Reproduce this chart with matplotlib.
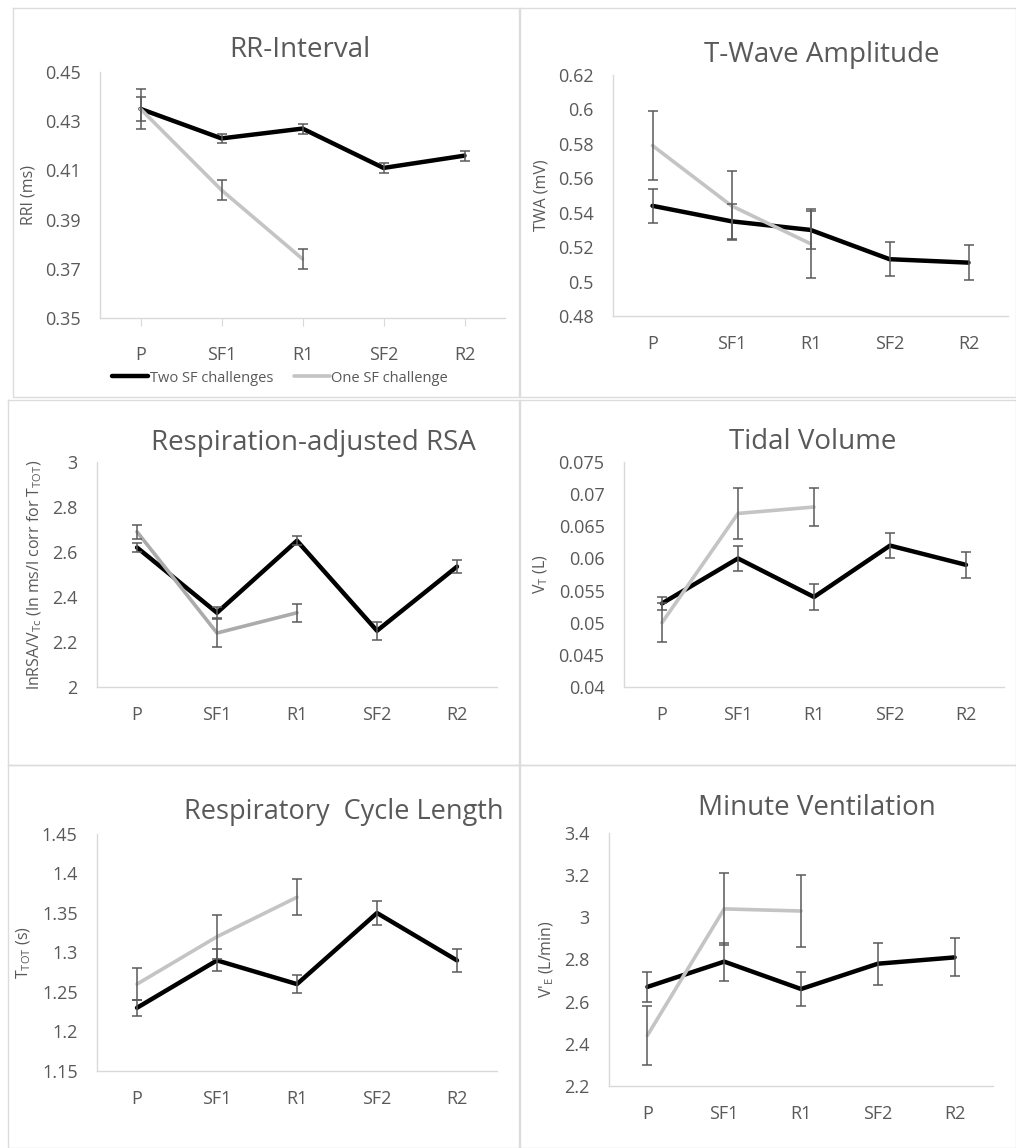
import matplotlib.pyplot as plt
from matplotlib.lines import Line2D

plt.rcParams['font.family'] = ['Open Sans', 'DejaVu Sans']
plt.rcParams['mathtext.fontset'] = 'custom'
plt.rcParams['mathtext.rm'] = 'Open Sans'
plt.rcParams['mathtext.it'] = 'Open Sans'

W, H = 1016, 1148
TXT = '#595959'
BLACK = '#000000'
GRAY = '#c4c4c4'

phases = ['P', 'SF1', 'R1', 'SF2', 'R2']
phases_one = ['P', 'SF1', 'R1']

# RR-Interval
rri_two = [0.435, 0.423, 0.427, 0.411, 0.416]
rri_two_err = [0.005, 0.002, 0.002, 0.002, 0.002]
rri_one = [0.435, 0.402, 0.374]
rri_one_err = [0.008, 0.004, 0.004]

# T-Wave Amplitude
twa_two = [0.544, 0.535, 0.530, 0.513, 0.511]
twa_two_err = [0.010, 0.010, 0.011, 0.010, 0.010]
twa_one = [0.579, 0.544, 0.522]
twa_one_err = [0.020, 0.020, 0.020]

# Respiration-adjusted RSA
rsa_two = [2.62, 2.33, 2.65, 2.25, 2.535]
rsa_two_err = [0.02, 0.025, 0.02, 0.04, 0.03]
rsa_one = [2.69, 2.24, 2.33]
rsa_one_err = [0.03, 0.06, 0.04]

# Tidal Volume
vt_two = [0.053, 0.060, 0.054, 0.062, 0.059]
vt_two_err = [0.001, 0.002, 0.002, 0.002, 0.002]
vt_one = [0.050, 0.067, 0.068]
vt_one_err = [0.003, 0.004, 0.003]

# Respiratory Cycle Length
ttot_two = [1.23, 1.29, 1.26, 1.35, 1.29]
ttot_two_err = [0.01, 0.014, 0.011, 0.015, 0.015]
ttot_one = [1.26, 1.32, 1.37]
ttot_one_err = [0.02, 0.028, 0.023]

# Minute Ventilation
ve_two = [2.67, 2.79, 2.66, 2.78, 2.81]
ve_two_err = [0.07, 0.09, 0.08, 0.10, 0.09]
ve_one = [2.44, 3.04, 3.03]
ve_one_err = [0.14, 0.17, 0.17]

fig = plt.figure(figsize=(W / 100, H / 100), dpi=100)


def px_axes(left, top, right, bottom):
    return fig.add_axes([left / W, 1 - bottom / H, (right - left) / W, (bottom - top) / H])


def panel(box, title, title_x, title_y, ylabel, ylim, yticks, two, two_err, one, one_err,
          gray=GRAY, xticks_marks=False, title_size=20):
    ax = px_axes(*box)
    x2 = list(range(len(phases)))
    x1 = list(range(len(phases_one)))
    ax.plot(x2, two, color=BLACK, lw=3.2, solid_capstyle='round', zorder=2,
            label='Two SF challenges')
    ax.plot(x1, one, color=gray, lw=2.6, solid_capstyle='round', zorder=3,
            label='One SF challenge')
    ax.errorbar(x2, two, yerr=two_err, fmt='none', ecolor='#5a5a5a', elinewidth=1.1,
                capsize=3.5, capthick=1.1, zorder=4)
    ax.errorbar(x1, one, yerr=one_err, fmt='none', ecolor='#5a5a5a', elinewidth=1.1,
                capsize=3.5, capthick=1.1, zorder=4)
    ax.set_xlim(-0.5, 4.5)
    ax.set_ylim(*ylim)
    ax.set_yticks(yticks)
    ax.set_yticklabels([f'{v:g}' for v in yticks])
    ax.set_xticks(x2)
    ax.set_xticklabels(phases)
    for s in ['top', 'right']:
        ax.spines[s].set_visible(False)
    for s in ['left', 'bottom']:
        ax.spines[s].set_color('#d9d9d9')
        ax.spines[s].set_linewidth(1.0)
    ax.tick_params(axis='y', length=0, pad=14, labelsize=13, labelcolor=TXT)
    ax.tick_params(axis='x', length=6 if xticks_marks else 0, color='#d9d9d9',
                   pad=14, labelsize=13, labelcolor=TXT)
    ax.set_ylabel(ylabel, fontsize=11.5, color=TXT, labelpad=6)
    fig.text(title_x / W, 1 - title_y / H, title, fontsize=title_size, color=TXT,
             ha='center', va='center')
    return ax


ax1 = panel((100, 72, 505, 318), 'RR-Interval', 300, 50, 'RRI (ms)', (0.35, 0.45),
            [0.35, 0.37, 0.39, 0.41, 0.43, 0.45], rri_two, rri_two_err, rri_one, rri_one_err,
            xticks_marks=True)
ax1.legend(loc='center', bbox_to_anchor=(280 / W, 1 - 378 / H), bbox_transform=fig.transFigure,
           ncol=2, frameon=False, fontsize=10.5, labelcolor=TXT, handlelength=2.5,
           handletextpad=0.1, columnspacing=1.4)

panel((613, 75, 1008, 316), 'T-Wave Amplitude', 822, 55, 'TWA (mV)', (0.48, 0.62),
      [0.48, 0.5, 0.52, 0.54, 0.56, 0.58, 0.6, 0.62], twa_two, twa_two_err, twa_one, twa_one_err)

panel((97, 462, 497, 687), 'Respiration-adjusted RSA', 313, 443,
      r'lnRSA/V$_{\mathregular{Tc}}$ (ln ms/l corr for T$_{\mathregular{TOT}}$)', (2, 3),
      [2, 2.2, 2.4, 2.6, 2.8, 3], rsa_two, rsa_two_err, rsa_one, rsa_one_err, gray='#ababab')

panel((624, 462, 1004, 687), 'Tidal Volume', 813, 442, r'V$_{\mathregular{T}}$ (L)',
      (0.04, 0.075), [0.04, 0.045, 0.05, 0.055, 0.06, 0.065, 0.07, 0.075],
      vt_two, vt_two_err, vt_one, vt_one_err)

panel((97, 834, 497, 1071), 'Respiratory  Cycle Length', 344, 812,
      r'T$_{\mathregular{TOT}}$ (s)', (1.15, 1.45),
      [1.15, 1.2, 1.25, 1.3, 1.35, 1.4, 1.45], ttot_two, ttot_two_err, ttot_one, ttot_one_err,
      title_size=19.5)

panel((609, 833, 993, 1086), 'Minute Ventilation', 817, 808,
      r"V'$_{\mathregular{E}}$ (L/min)", (2.2, 3.4),
      [2.2, 2.4, 2.6, 2.8, 3, 3.2, 3.4], ve_two, ve_two_err, ve_one, ve_one_err)

# panel frames
frames = [(13, 8, 519, 397), (520, 8, 1016, 397), (8, 400, 519, 765),
          (520, 400, 1016, 765), (8, 765, 519, 1148), (520, 765, 1016, 1148)]
for l, t, r, b in frames:
    xs = [l / W, r / W, r / W, l / W, l / W]
    ys = [1 - t / H, 1 - t / H, 1 - b / H, 1 - b / H, 1 - t / H]
    fig.add_artist(Line2D(xs, ys, transform=fig.transFigure, color='#dcdcdc', lw=1.0))

plt.savefig('out.png', dpi=100)
